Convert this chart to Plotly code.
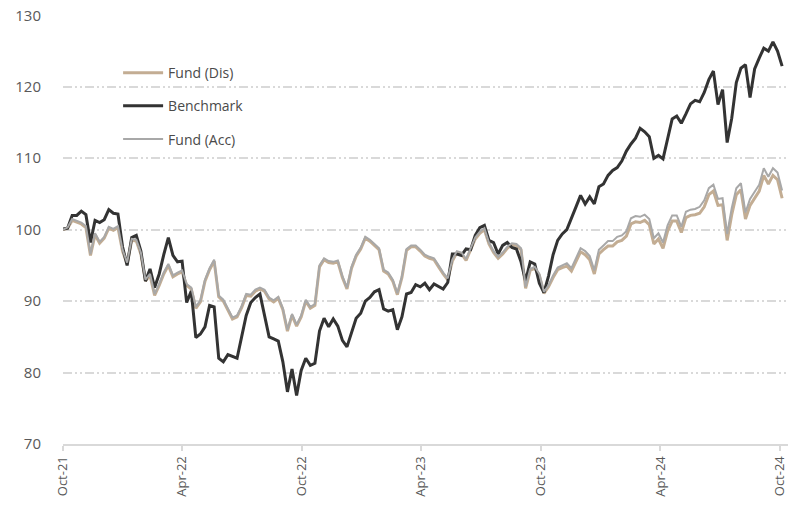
import plotly.graph_objects as go
import pandas as pd

start_date = "2021-10-01"
n_weeks = 158
dates = pd.date_range(start_date, periods=n_weeks, freq="7D")

benchmark = [100.1,100.2,102.0,102.0,102.6,102.1,98.2,101.3,101.0,101.4,
             102.8,102.3,102.2,97.6,95.0,98.9,99.2,97.0,92.8,94.5,
             91.9,93.8,96.5,98.9,96.4,95.5,95.6,89.8,91.4,84.9,
             85.4,86.4,89.4,89.2,82.0,81.5,82.5,82.2,82.0,85.0,
             88.0,89.8,90.5,91.0,88.2,85.0,84.7,84.4,81.5,77.3,
             80.5,76.8,80.3,82.0,81.0,81.3,85.8,87.6,86.4,87.5,
             86.5,84.5,83.6,85.6,87.6,88.3,90.0,90.5,91.3,91.6,
             88.9,88.6,88.8,86.0,87.8,91.0,91.2,92.3,92.0,92.5,
             91.6,92.4,92.0,91.7,92.6,96.6,96.6,96.4,97.3,97.2,
             99.2,100.3,100.6,98.5,98.2,96.6,97.8,98.2,97.5,97.3,
             95.5,92.8,95.5,95.2,92.5,91.2,93.5,96.5,98.5,99.4,
             100.0,101.5,103.2,104.8,103.6,104.6,103.6,106.0,106.4,107.6,
             108.3,108.7,109.6,111.0,112.0,112.8,114.2,113.7,113.0,110.0,
             110.4,109.9,112.8,115.5,115.9,114.9,116.2,117.6,118.1,117.9,
             119.2,121.0,122.2,117.5,119.6,112.2,115.6,120.6,122.6,123.1,
             118.5,122.5,124.0,125.4,125.0,126.3,125.0,122.9]

fund_acc = [100.0,100.3,101.5,101.2,101.0,100.5,96.6,99.5,98.3,99.0,
            100.4,100.1,100.5,97.2,95.4,98.7,98.6,96.8,93.0,93.8,
            91.0,92.4,94.0,95.2,93.6,94.0,94.3,92.4,91.9,89.2,
            90.1,93.0,94.6,95.8,90.8,90.2,89.0,87.7,88.0,89.3,
            91.0,90.9,91.6,91.9,91.6,90.5,90.1,90.6,89.0,86.0,
            88.2,86.7,88.0,90.2,89.2,89.6,95.0,96.0,95.6,95.5,
            95.7,93.5,91.9,94.8,96.5,97.5,99.0,98.6,98.0,97.4,
            94.4,94.0,93.0,91.1,93.5,97.3,97.8,97.8,97.2,96.5,
            96.2,96.0,95.0,94.0,93.2,95.8,97.0,96.8,95.9,97.4,
            98.9,99.7,100.2,98.2,97.0,96.2,96.8,97.6,98.1,98.0,
            97.4,92.0,94.5,94.8,93.8,91.3,92.2,93.6,94.7,95.0,
            95.3,94.6,96.0,97.4,97.0,96.3,94.3,97.2,97.8,98.4,
            98.4,99.0,99.2,99.8,101.6,101.9,101.8,102.1,101.5,98.8,
            99.5,98.2,100.6,102.0,102.0,100.4,102.5,102.8,102.9,103.2,
            104.1,105.8,106.3,104.3,104.4,99.4,103.0,105.8,106.5,102.4,
            104.3,105.4,106.3,108.6,107.4,108.6,108.0,105.5]

fund_dis = [100.0,100.2,101.3,101.0,100.8,100.3,96.4,99.3,98.1,98.8,
            100.2,99.9,100.3,97.0,95.2,98.5,98.4,96.6,92.8,93.6,
            90.8,92.2,93.8,95.0,93.4,93.8,94.1,92.2,91.7,89.0,
            89.9,92.8,94.4,95.6,90.6,90.0,88.8,87.5,87.8,89.1,
            90.8,90.7,91.4,91.7,91.4,90.3,89.9,90.4,88.8,85.8,
            88.0,86.5,87.8,90.0,89.0,89.4,94.8,95.8,95.4,95.3,
            95.5,93.3,91.7,94.6,96.3,97.3,98.8,98.4,97.8,97.2,
            94.2,93.8,92.8,90.9,93.3,97.1,97.6,97.6,97.0,96.3,
            96.0,95.8,94.8,93.8,93.0,95.6,96.8,96.6,95.7,97.2,
            98.7,99.5,100.0,98.0,96.8,96.0,96.6,97.4,97.9,97.8,
            97.2,91.8,94.3,94.6,93.6,91.1,92.0,93.3,94.4,94.7,
            94.9,94.2,95.6,96.9,96.5,95.8,93.8,96.6,97.2,97.7,
            97.7,98.3,98.5,99.1,100.8,101.1,101.0,101.3,100.7,98.0,
            98.7,97.4,99.8,101.2,101.2,99.6,101.7,102.0,102.1,102.3,
            103.2,104.9,105.4,103.4,103.5,98.5,102.1,104.9,105.6,101.5,
            103.4,104.5,105.4,107.6,106.4,107.6,107.0,104.4]

tick_dates = ["2021-10-01", "2022-04-01", "2022-10-01", "2023-04-01",
              "2023-10-01", "2024-04-01", "2024-10-01"]
tick_labels = ["Oct-21", "Apr-22", "Oct-22", "Apr-23", "Oct-23", "Apr-24", "Oct-24"]
y_ticks = [70, 80, 90, 100, 110, 120, 130]

FONT = "Open Sans"

fig = go.Figure()
fig.add_trace(go.Scatter(x=dates, y=fund_dis, name="Fund (Dis)", mode="lines",
                         line=dict(color="#c3ad93", width=3), legendgroup="a"))
fig.add_trace(go.Scatter(x=dates, y=benchmark, name="Benchmark", mode="lines",
                         line=dict(color="#333333", width=3), legendgroup="b"))
fig.add_trace(go.Scatter(x=dates, y=fund_acc, name="Fund (Acc)", mode="lines",
                         line=dict(color="#a8a8a8", width=2), legendgroup="c"))

fig.update_layout(
    width=798, height=513,
    margin=dict(l=63, r=10, t=15, b=69),
    paper_bgcolor="white", plot_bgcolor="white",
    font=dict(family=FONT, size=14, color="#595959"),
    showlegend=True,
    legend=dict(x=0.076, y=0.902, xanchor="left", yanchor="top",
                bgcolor="rgba(0,0,0,0)", tracegroupgap=12,
                font=dict(family=FONT, size=14, color="#4a4a4a"),
                itemwidth=40),
)
fig.update_xaxes(
    type="date",
    range=["2021-10-01", "2024-10-13"],
    tickvals=tick_dates, ticktext=tick_labels,
    tickangle=-90,
    tickfont=dict(family=FONT, size=13, color="#595959"),
    showgrid=False,
    showline=True, linecolor="#d9d9d9", linewidth=2,
    ticks="outside", ticklen=5, tickcolor="#d9d9d9", tickwidth=1.5,
    zeroline=False, automargin=False, ticklabeloverflow="allow",
)
fig.update_yaxes(
    range=[70, 130.05],
    tickvals=y_ticks,
    showgrid=True, gridcolor="#d9d9d9", gridwidth=1.5,
    griddash="9px,3px,2px,3px,2px,3px",
    showline=False, zeroline=False,
    ticks="", ticklabelstandoff=21, automargin=False, ticklabeloverflow="allow",
    tickfont=dict(family=FONT, size=15, color="#595959"),
)

fig.write_html(
    "out.html",
    config={"displayModeBar": False},
    post_script="document.body.style.margin='0';document.body.style.overflow='hidden';",
)
